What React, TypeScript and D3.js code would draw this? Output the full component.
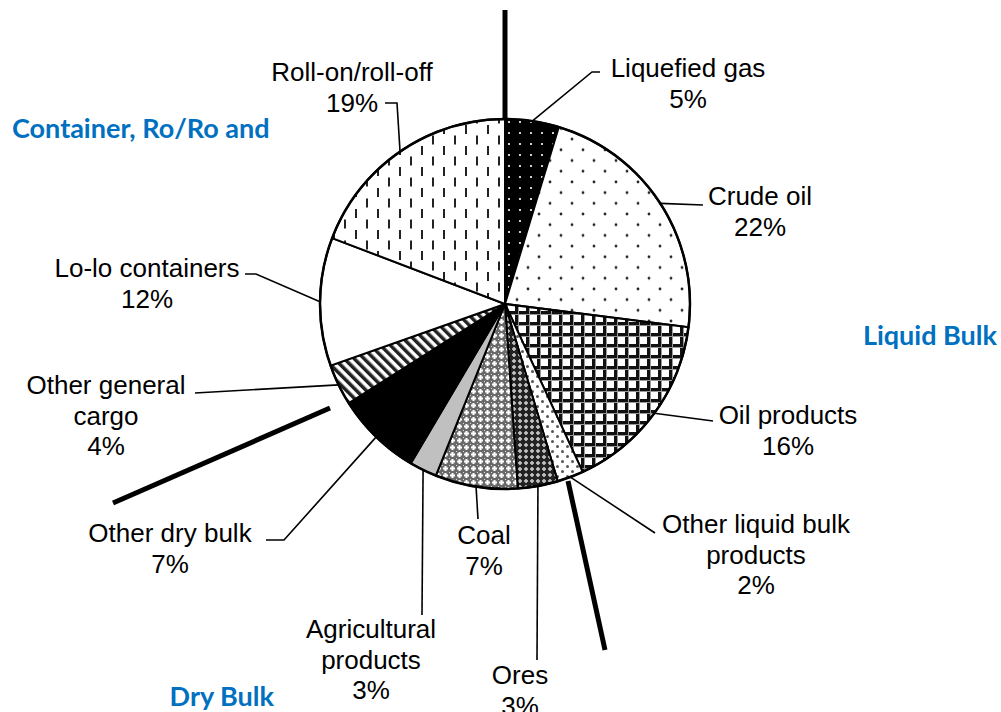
import React from "react";
import * as d3 from "d3";

// ---- data ----
const categories = [
  "Liquefied gas",
  "Crude oil",
  "Oil products",
  "Other liquid bulk products",
  "Ores",
  "Coal",
  "Agricultural products",
  "Other dry bulk",
  "Other general cargo",
  "Lo-lo containers",
  "Roll-on/roll-off",
];
const shares = [4.7, 22.3, 16.1, 2.3, 3.5, 7.2, 2.4, 7.5, 3.6, 11.2, 19.2];
const percentLabels = ["5%", "22%", "16%", "2%", "3%", "7%", "3%", "7%", "4%", "12%", "19%"];
const labelLines = [
  ["Liquefied gas"],
  ["Crude oil"],
  ["Oil products"],
  ["Other liquid bulk", "products"],
  ["Ores"],
  ["Coal"],
  ["Agricultural", "products"],
  ["Other dry bulk"],
  ["Other general", "cargo"],
  ["Lo-lo containers"],
  ["Roll-on/roll-off"],
];
const groupNames = ["Container, Ro/Ro and", "Liquid Bulk", "Dry Bulk"];

// ---- layout ----
const W = 1001;
const H = 712;
const CX = 505;
const CY = 304;
const R = 185;
const FONT = "'Liberation Sans', Arial, sans-serif";
const FS = 26;
const LH = 30.5;

const fills = [
  "url(#pLiq)",
  "url(#pCrude)",
  "url(#pOil)",
  "url(#pOtherLiq)",
  "url(#pOres)",
  "url(#pCoal)",
  "#c0c0c0",
  "#000000",
  "url(#pGen)",
  "#ffffff",
  "url(#pRoro)",
];

// label block centre x, first-line baseline y
const labelPos: [number, number][] = [
  [688, 77],
  [760, 205],
  [788, 424],
  [756, 533],
  [520, 684],
  [484, 544],
  [371, 638],
  [170, 542],
  [106, 394],
  [147, 277],
  [352, 81],
];
// leader end points (after the one that starts on the slice rim)
const leaderEnds: [number, number][][] = [
  [[592, 72], [600, 72]],
  [[703, 205]],
  [[713, 421]],
  [[655, 533]],
  [[537, 660]],
  [[478, 519]],
  [[422, 615]],
  [[284, 540], [266, 540]],
  [[195, 393]],
  [[256, 274], [245, 274]],
  [[397, 103], [385, 103]],
];
const separators: [number, number, number, number][] = [
  [505, 10, 505, 118],
  [330, 408, 113, 503],
  [568, 481, 605, 650],
];
const groupPos: [number, number, string][] = [
  [12, 138, "start"],
  [997, 345, "end"],
  [274, 706, "end"],
];

export default function App() {
  const pie = d3
    .pie<number>()
    .sort(null)
    .value((d) => d)
    .startAngle(0)
    .endAngle(2 * Math.PI);
  const arcs = pie(shares);
  const arc = d3.arc<d3.PieArcDatum<number>>().innerRadius(0).outerRadius(R);

  const rim = (a: d3.PieArcDatum<number>): [number, number] => {
    const m = (a.startAngle + a.endAngle) / 2;
    return [CX + R * Math.sin(m), CY - R * Math.cos(m)];
  };

  return (
    <svg width={W} height={H} style={{ position: "absolute", left: 0, top: 0, background: "#fff" }}>
      <defs>
        <pattern id="pLiq" width={11} height={11} patternUnits="userSpaceOnUse" x={CX} y={0}>
          <rect width={11} height={11} fill="#000" />
          <circle cx={5} cy={5} r={1.1} fill="#fff" />
        </pattern>
        <pattern id="pCrude" width={22} height={21.4} patternUnits="userSpaceOnUse" x={CX} y={CY}>
          <rect width={22} height={21.4} fill="#fff" />
          <circle cx={2} cy={2} r={1.4} fill="#222" />
          <circle cx={13} cy={12.7} r={1.4} fill="#222" />
        </pattern>
        <pattern id="pOil" width={11} height={11} patternUnits="userSpaceOnUse" x={CX} y={CY}>
          <rect width={11} height={11} fill="#fff" />
          <rect x={0} y={0} width={11} height={3} fill="#111" />
          <rect x={0} y={0} width={3} height={11} fill="#111" />
          <rect x={0} y={3} width={11} height={1} fill="#999" />
          <rect x={3} y={0} width={1} height={11} fill="#999" />
        </pattern>
        <pattern id="pOtherLiq" width={10} height={10} patternUnits="userSpaceOnUse">
          <rect width={10} height={10} fill="#fff" />
          <circle cx={2.5} cy={2.5} r={1.5} fill="#555" />
          <circle cx={7.5} cy={7.5} r={1.5} fill="#555" />
        </pattern>
        <pattern id="pOres" width={6} height={6} patternUnits="userSpaceOnUse">
          <rect width={6} height={6} fill="#222" />
          <rect x={2} y={1} width={2} height={4} fill="#aaa" />
          <rect x={1} y={2} width={4} height={2} fill="#aaa" />
          <rect x={2.5} y={2.5} width={1} height={1} fill="#fff" />
        </pattern>
        <pattern id="pCoal" width={7} height={7} patternUnits="userSpaceOnUse">
          <rect width={7} height={7} fill="#6a6a6a" />
          <rect x={2.5} y={1} width={2} height={5} fill="#fff" />
          <rect x={1} y={2.5} width={5} height={2} fill="#fff" />
          <rect x={0} y={0} width={1} height={1} fill="#ddd" />
        </pattern>
        <pattern id="pGen" width={7} height={7} patternUnits="userSpaceOnUse" patternTransform="rotate(-45)">
          <rect width={7} height={7} fill="#fff" />
          <rect x={0} y={0} width={3.5} height={7} fill="#222" />
        </pattern>
        <pattern id="pRoro" width={22} height={21} patternUnits="userSpaceOnUse" x={CX} y={CY}>
          <rect width={22} height={21} fill="#fff" />
          <rect x={5} y={0} width={2} height={9} fill="#222" />
          <rect x={16} y={10.5} width={2} height={9} fill="#222" />
        </pattern>
      </defs>

      <g transform={`translate(${CX},${CY})`}>
        {arcs.map((a, i) => (
          <path key={categories[i]} d={arc(a) ?? ""} fill={fills[i]} stroke="#000" strokeWidth={2} strokeLinejoin="round" />
        ))}
        <circle r={R} fill="none" stroke="#000" strokeWidth={2.5} />
      </g>

      {arcs.map((a, i) => {
        const pts = [rim(a), ...leaderEnds[i]];
        return (
          <polyline
            key={"l" + i}
            points={pts.map((p) => p.join(",")).join(" ")}
            fill="none"
            stroke="#000"
            strokeWidth={1.6}
          />
        );
      })}

      {separators.map((s, i) => (
        <line key={"s" + i} x1={s[0]} y1={s[1]} x2={s[2]} y2={s[3]} stroke="#000" strokeWidth={5} />
      ))}

      {labelLines.map((lines, i) => (
        <text
          key={"t" + i}
          x={labelPos[i][0]}
          y={labelPos[i][1]}
          textAnchor="middle"
          fontFamily={FONT}
          fontSize={FS}
          fill="#000"
        >
          {[...lines, percentLabels[i]].map((ln, j) => (
            <tspan key={j} x={labelPos[i][0]} dy={j === 0 ? 0 : LH}>
              {ln}
            </tspan>
          ))}
        </text>
      ))}

      {groupNames.map((g, i) => (
        <text
          key={"g" + i}
          x={groupPos[i][0]}
          y={groupPos[i][1]}
          textAnchor={groupPos[i][2] as any}
          fontFamily="Lato, 'Open Sans', sans-serif"
          fontWeight="bold"
          fontSize={27}
          fill="#0070C0"
        >
          {g}
        </text>
      ))}
    </svg>
  );
}
